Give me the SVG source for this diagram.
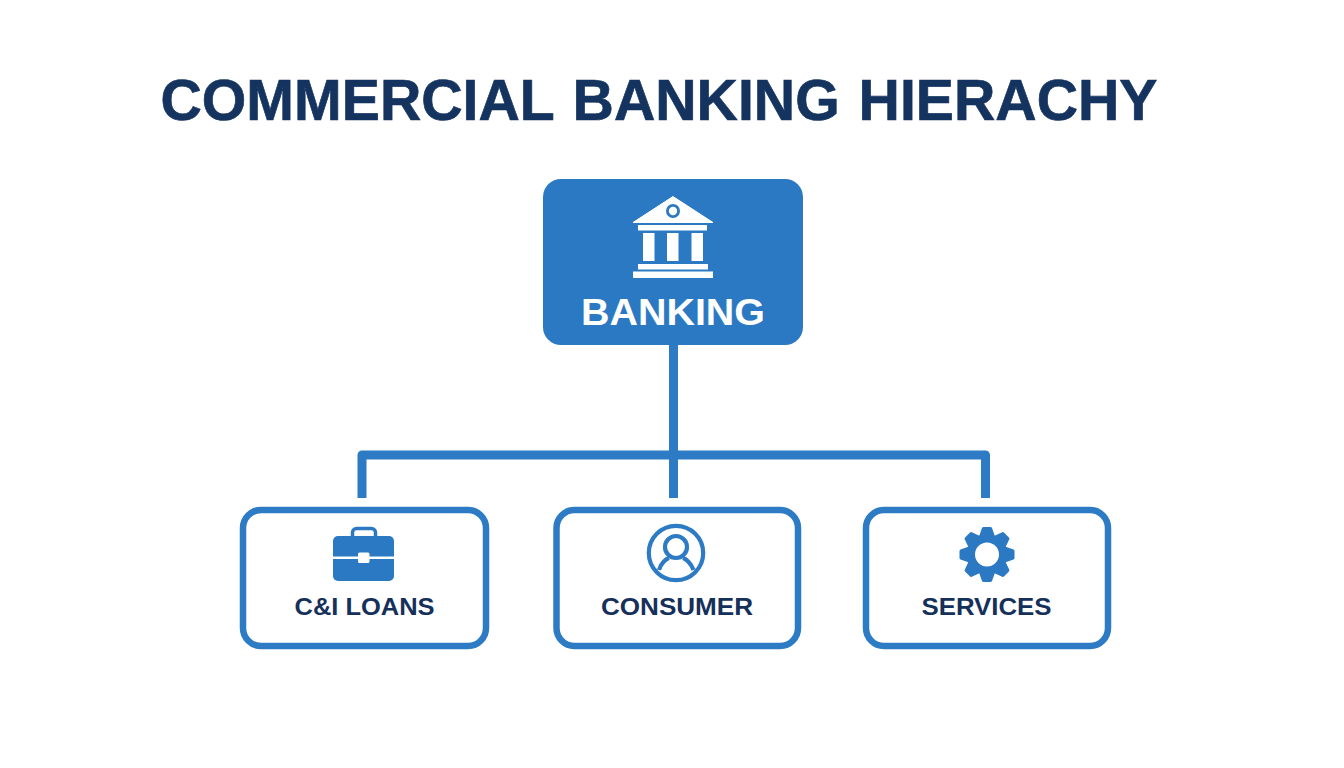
<svg xmlns="http://www.w3.org/2000/svg" width="1344" height="768" viewBox="0 0 1344 768">
<style>
text{font-family:"Liberation Sans",Arial,sans-serif;font-weight:700;text-anchor:middle}
.title{font-size:57.5px;fill:#14335f;stroke:#14335f;stroke-width:.7;word-spacing:3px}
.lab{font-size:24px;fill:#15305a}
.card{fill:#fff;stroke:#2d7bc4;stroke-width:6.500}
.ic{fill:#2b79c2}
.w{fill:#fff}
.ln{fill:none;stroke:#2d7bc4;stroke-width:4.200}
#connectors path{fill:none;stroke:#2d7bc4;stroke-width:9;stroke-linejoin:round}
</style>
<defs>
<path id="tooth" d="M-8 -18L-5 -26.500Q-4.500 -27.500 -3.500 -27.500H3.500Q4.500 -27.500 5 -26.500L8 -18Z"/>
</defs>
<rect width="1344" height="768" fill="#fff"/>
<text class="title" x="659" y="119.500" textLength="997" lengthAdjust="spacingAndGlyphs">COMMERCIAL BANKING HIERACHY</text>
<g id="connectors">
<path d="M673.5 345V498"/>
<path d="M362 498V455H985.500V498"/>
</g>
<g id="banking">
<rect x="543" y="179" width="260" height="166" rx="18" fill="#2b79c2"/>
<path class="w" d="M673 196.500L713 222.500H633Z" stroke="#fff" stroke-width="1" stroke-linejoin="round"/>
<circle cx="673" cy="211" r="5.600" fill="none" stroke="#2b79c2" stroke-width="2.800"/>
<rect class="w" x="638" y="225" width="69" height="5.500"/>
<rect class="w" x="643" y="233" width="11.500" height="28"/>
<rect class="w" x="667" y="233" width="11.500" height="28"/>
<rect class="w" x="691.500" y="233" width="11.500" height="28"/>
<rect class="w" x="638" y="264" width="70" height="5.500"/>
<rect class="w" x="633" y="271.500" width="80" height="6.500"/>
<text x="673" y="325" font-size="37" fill="#fff" textLength="184" lengthAdjust="spacingAndGlyphs">BANKING</text>
</g>
<g id="ci-loans">
<rect class="card" x="243" y="510" width="243" height="136" rx="18"/>
<rect x="352.500" y="528.500" width="23" height="12" rx="4" fill="none" stroke="#2b79c2" stroke-width="3.500"/>
<path class="ic" d="M338 536H389a5 5 0 0 1 5 5V556.500H333V541a5 5 0 0 1 5-5Z"/>
<path class="ic" d="M333 559H394V576a5 5 0 0 1-5 5H338a5 5 0 0 1-5-5Z"/>
<rect x="358" y="552.500" width="11.500" height="10.500" rx="1.500" fill="#fff"/>
<text class="lab" x="364.500" y="615" textLength="140" lengthAdjust="spacingAndGlyphs">C&amp;I LOANS</text>
</g>
<g id="consumer">
<rect class="card" x="556.500" y="510" width="241.500" height="136" rx="18"/>
<circle class="ln" cx="676" cy="553" r="27.200"/>
<circle class="ln" cx="676" cy="547" r="11"/>
<path class="ln" d="M659 570C661 563 666 559 669 558M683 558C686 559 691 563 693.500 570"/>
<text class="lab" x="677" y="615" textLength="152" lengthAdjust="spacingAndGlyphs">CONSUMER</text>
</g>
<g id="services">
<rect class="card" x="866" y="510" width="242" height="136" rx="18"/>
<g class="ic" transform="translate(987 554.500)">
<circle r="20"/>
<use href="#tooth"/>
<use href="#tooth" transform="rotate(45)"/>
<use href="#tooth" transform="rotate(90)"/>
<use href="#tooth" transform="rotate(135)"/>
<use href="#tooth" transform="rotate(180)"/>
<use href="#tooth" transform="rotate(225)"/>
<use href="#tooth" transform="rotate(270)"/>
<use href="#tooth" transform="rotate(315)"/>
<circle class="w" r="12"/>
</g>
<text class="lab" x="986.500" y="615" textLength="130" lengthAdjust="spacingAndGlyphs">SERVICES</text>
</g>
</svg>
